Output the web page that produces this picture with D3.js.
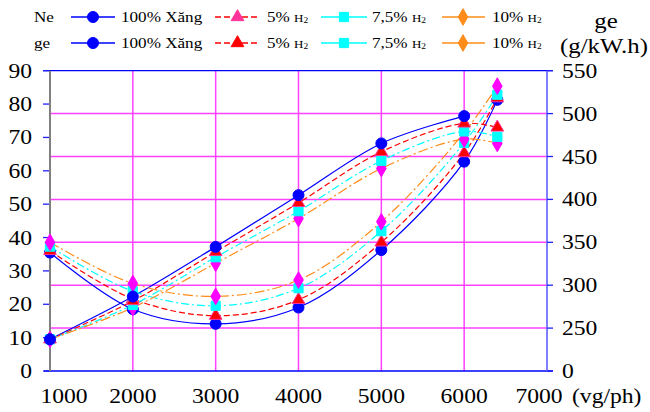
<!DOCTYPE html>
<html>
<head>
<meta charset="utf-8">
<script src="https://cdn.jsdelivr.net/npm/d3@7"></script>
<style>
  body { margin: 0; background: #fff; }
  svg text { font-family: "Liberation Serif", "Times New Roman", serif; fill: #000; }
</style>
</head>
<body>
<svg id="chart" width="650" height="412"></svg>
<script>
// engine speed (vg/ph)
var rpm = [1000, 2000, 3000, 4000, 5000, 6000, 6400];

// Ne (kW) - left axis
var neXang = [9.5, 22.3, 37.2, 52.7, 68.2, 76.4, null];
var neH5   = [9.5, 21.0, 35.7, 50.4, 65.7, 74.2, 73.0];
var neH75  = [9.5, 19.8, 34.1, 47.9, 63.0, 71.8, 70.2];
var neH10  = [9.5, 19.0, 32.3, 45.7, 60.7, 69.5, 68.2];

// ge (g/kW.h) - right axis
var geXang = [338, 272, 255, 274, 341, 444, 516];
var geH5   = [340, 284, 264.5, 283, 350, 454, 518];
var geH75  = [345, 293, 276, 296.5, 363, 466, 522];
var geH10  = [350, 302, 287, 306, 374, 478, 532];

var neTicks = [0, 10, 20, 30, 40, 50, 60, 70, 80, 90];
var geTicks = [200, 250, 300, 350, 400, 450, 500, 550];
var geTickLabels = ["0", "250", "300", "350", "400", "450", "500", "550"];
var rpmTicks = [1000, 2000, 3000, 4000, 5000, 6000, 7000];
var rpmGrid = [2000, 3000, 4000, 5000, 6000];

var svg = d3.select("#chart");
var SX = 1.18; // text in the original is a bit stretched

var x = d3.scaleLinear().domain([1000, 7000]).range([50, 547]);
var yNe = d3.scaleLinear().domain([0, 90]).range([371, 70.7]);
var yGe = d3.scaleLinear().domain([200, 550]).range([371, 70.7]);

function stext(g, px, py, str, size, anchor){
  return g.append("text")
    .attr("transform", "translate(" + px + "," + py + ") scale(" + SX + ",1)")
    .attr("text-anchor", anchor || "start")
    .style("font-size", size + "px")
    .text(str);
}

function h2text(g, px, py, prefix){
  var t = g.append("text")
    .attr("transform", "translate(" + px + "," + py + ") scale(" + SX + ",1)")
    .style("font-size", "14.5px");
  t.append("tspan").text(prefix + " ");
  t.append("tspan").style("font-size", "11px").text("H");
  t.append("tspan").style("font-size", "8px").attr("dy", 1).text("2");
}

// grid
var grid = svg.append("g");
grid.selectAll(".hg").data(geTicks.slice(1, 7)).enter().append("line")
  .attr("x1", x(1000)).attr("x2", x(7000))
  .attr("y1", function(d){ return yGe(d); }).attr("y2", function(d){ return yGe(d); })
  .attr("stroke", "#ff40ff").attr("stroke-width", 1.5);
grid.selectAll(".vg").data(rpmGrid).enter().append("line")
  .attr("x1", function(d){ return x(d); }).attr("x2", function(d){ return x(d); })
  .attr("y1", yNe(0)).attr("y2", yNe(90))
  .attr("stroke", "#ff40ff").attr("stroke-width", 1.5);

// frame
grid.append("line").attr("x1", 43).attr("x2", 553).attr("y1", yNe(90)).attr("y2", yNe(90))
  .attr("stroke", "#0000ff").attr("stroke-width", 1.3);
grid.append("line").attr("x1", 44).attr("x2", 553).attr("y1", yNe(0)).attr("y2", yNe(0))
  .attr("stroke", "#0000ff").attr("stroke-width", 1.3);
grid.append("line").attr("x1", x(7000)).attr("x2", x(7000)).attr("y1", yNe(0)).attr("y2", yNe(90))
  .attr("stroke", "#7070ff").attr("stroke-width", 1.8);
grid.append("line").attr("x1", x(1000)).attr("x2", x(1000)).attr("y1", yNe(0)).attr("y2", yNe(90))
  .attr("stroke", "#808080").attr("stroke-width", 2);

// left ticks + labels
var lax = svg.append("g");
neTicks.forEach(function(v){
  lax.append("line").attr("x1", 43).attr("x2", x(1000) - 1)
    .attr("y1", yNe(v)).attr("y2", yNe(v)).attr("stroke", "#2020ff").attr("stroke-width", 1.3);
  stext(lax, 32, yNe(v) + 7, String(v), 20, "end");
});

// right ticks + labels
var rax = svg.append("g");
geTicks.forEach(function(v, i){
  rax.append("line").attr("x1", x(7000)).attr("x2", 553)
    .attr("y1", yGe(v)).attr("y2", yGe(v)).attr("stroke", "#2020ff").attr("stroke-width", 1.3);
  stext(rax, 562, yGe(v) + 7, geTickLabels[i], 20, "start");
});

// bottom labels
var bax = svg.append("g");
rpmTicks.forEach(function(v){
  var px = x(v);
  if (v == 1000) px += 14;
  if (v == 7000) px -= 8;
  stext(bax, px, 403, String(v), 20, "middle");
});
stext(bax, 572, 403, "(vg/ph)", 20, "start");

// unit label
stext(svg, 606, 28, "ge", 21, "middle");
stext(svg, 604, 53, "(g/kW.h)", 21, "middle");

var series = [
  {ne: neXang, ge: geXang, color: "#0000ff", dash: null, mark: "circle"},
  {ne: neH5, ge: geH5, color: "#ff0000", dash: "6,3", mark: "triangle"},
  {ne: neH75, ge: geH75, color: "#00ffff", dash: "8,3,2,3", mark: "square"},
  {ne: neH10, ge: geH10, color: "#ff8c1a", dash: "10,3,2,3", mark: "diamond"}
];

var markFill = {circle: "#0000ff", triangle: "#ff0000", square: "#00ffff", diamond: "#ff00ff"};
var markStroke = {circle: "#0000ff", triangle: "#ff3399", square: "#00ffff", diamond: "#ff00ff"};
var markSym = {
  circle: d3.symbol().type(d3.symbolCircle).size(95),
  triangle: d3.symbol().type(d3.symbolTriangle).size(70),
  square: d3.symbol().type(d3.symbolSquare).size(85),
  diamond: d3.symbol().type(d3.symbolDiamond).size(80)
};

function pts(vals, yScale){
  var out = [];
  vals.forEach(function(v, i){ if (v != null) out.push([x(rpm[i]), yScale(v)]); });
  return out;
}

var lineGen = d3.line().curve(d3.curveCatmullRom.alpha(0.5));
var lines = svg.append("g");
series.forEach(function(s){
  [pts(s.ne, yNe), pts(s.ge, yGe)].forEach(function(p){
    lines.append("path")
      .attr("d", lineGen(p))
      .attr("fill", "none")
      .attr("stroke", s.color)
      .attr("stroke-width", 1.2)
      .attr("stroke-dasharray", s.dash);
  });
});

function drawMarks(g, p, m){
  p.forEach(function(q){
    g.append("path")
      .attr("d", markSym[m]())
      .attr("transform", "translate(" + q[0] + "," + q[1] + ")")
      .attr("fill", markFill[m])
      .attr("stroke", markStroke[m])
      .attr("stroke-width", 1);
  });
}

var marks = svg.append("g");
// ge markers: blue first, diamond on top
series.forEach(function(s){ drawMarks(marks, pts(s.ge, yGe), s.mark); });
// Ne markers: blue on top
series.slice().reverse().forEach(function(s){ drawMarks(marks, pts(s.ne, yNe), s.mark); });

// legend
var leg = svg.append("g");
var legRows = [
  {label: "Ne", y: 17, tri: "#ff3399"},
  {label: "ge", y: 43, tri: "#ff0000"}
];
var legItems = [
  {x1: 71, x2: 115, mx: 93, tx: 121, color: "#0000ff", dash: null, mark: "circle", text: "100% Xăng"},
  {x1: 215, x2: 260, mx: 237.5, tx: 267, color: "#ff0000", dash: "6,3", mark: "triangle", h: "5%"},
  {x1: 321, x2: 367, mx: 344, tx: 372, color: "#00ffff", dash: null, mark: "square", h: "7,5%"},
  {x1: 442, x2: 485, mx: 463, tx: 492, color: "#ff8c1a", dash: null, mark: "diamond", h: "10%"}
];
legRows.forEach(function(r){
  stext(leg, 34, r.y + 5, r.label, 14.5, "start");
  legItems.forEach(function(it){
    leg.append("line").attr("x1", it.x1).attr("x2", it.x2).attr("y1", r.y).attr("y2", r.y)
      .attr("stroke", it.color).attr("stroke-width", 1.3).attr("stroke-dasharray", it.dash);
    var fill = it.mark == "triangle" ? r.tri : (it.mark == "diamond" ? "#ff8c1a" : it.color);
    leg.append("path").attr("d", markSym[it.mark]())
      .attr("transform", "translate(" + it.mx + "," + r.y + ")")
      .attr("fill", fill).attr("stroke", fill);
    if (it.text) stext(leg, it.tx, r.y + 5, it.text, 14.5, "start");
    else h2text(leg, it.tx, r.y + 5, it.h);
  });
});
</script>
</body>
</html>
